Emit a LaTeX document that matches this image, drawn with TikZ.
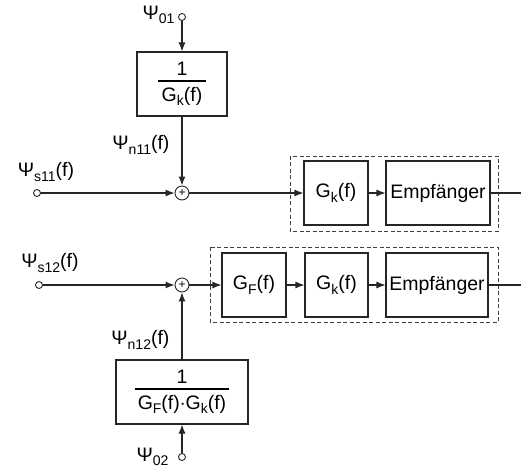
\documentclass[tikz,border=0pt]{standalone}
\usepackage{fontspec}
\setmainfont{Liberation Sans}
\usetikzlibrary{arrows.meta}
\newcommand{\myfr}[2]{\setlength\arrayrulewidth{1.8pt}\begin{tabular}{@{\,}c@{\,}}#1\\[-1pt]\hline\rule{0pt}{19pt}#2\end{tabular}}
\newcommand{\sbs}[1]{\raisebox{-0.45ex}{\fontsize{14}{14}\selectfont #1}}
\begin{document}
\begin{tikzpicture}[x=1pt,y=-1pt,
  every node/.style={font=\fontsize{19.5}{21}\selectfont},
  blk/.style={draw=black!85,line width=1.1pt,minimum height=64pt,inner sep=0pt},
  term/.style={circle,draw=black!85,line width=0.9pt,inner sep=0pt,minimum size=7pt,fill=white},
  summ/.style={circle,draw=black!85,line width=0.9pt,inner sep=0pt,minimum size=14pt},
  sig/.style={draw=black!85,line width=1.1pt},
  arr/.style={sig,-{Latex[length=9pt,width=7pt]}},
  dbox/.style={draw=black!75,dash pattern=on 4pt off 2.5pt,line width=0.8pt}]
\useasboundingbox (0,0) rectangle (521,470);
% dashed groups
\draw[dbox] (290,156) rectangle (498,231);
\draw[dbox] (210,247) rectangle (498,322);
% row 1
\node[term] (in01) at (182,17) {};
\node[anchor=east] (l01) at (178,15) {Ψ\sbs{01}};
\node[blk,minimum width=90pt] (box1) at (182,84) {\myfr{1}{G\sbs{k}(f)}};
\node[summ] (sum1) at (182,193) {\fontsize{12}{12}\selectfont +};
\node[anchor=east] (ln11) at (173,145) {Ψ\sbs{n11}(f)};
\node[term] (in11) at (37,193) {};
\node (ls11) at (46,172) {Ψ\sbs{s11}(f)};
\node[blk,minimum width=64pt] (gk1) at (336,193) {G\sbs{k}(f)};
\node[blk,minimum width=104pt] (emp1) at (438,193) {Empfänger};
\coordinate (out1) at (521,193);
\draw[arr] (in01) -- (box1.north);
\draw[arr] (box1.south) -- (sum1);
\draw[arr] (in11) -- (sum1);
\draw[arr] (sum1) -- (gk1);
\draw[arr] (gk1) -- (emp1);
\draw[sig] (emp1) -- (out1);
% row 2
\node[term] (in12) at (39,285) {};
\node (ls12) at (50,263) {Ψ\sbs{s12}(f)};
\node[summ] (sum2) at (182,285) {\fontsize{12}{12}\selectfont +};
\node[blk,minimum width=64pt] (gf2) at (254,285) {G\sbs{F}(f)};
\node[blk,minimum width=63pt] (gk2) at (336.5,285) {G\sbs{k}(f)};
\node[blk,minimum width=102pt] (emp2) at (437,285) {Empfänger};
\coordinate (out2) at (521,285);
\node[anchor=east] (ln12) at (173,340) {Ψ\sbs{n12}(f)};
\node[blk,minimum width=132pt] (box2) at (182,392) {\myfr{1}{G\sbs{F}(f)$\cdot$G\sbs{k}(f)}};
\node[term] (in02) at (182,457) {};
\node[anchor=east] (l02) at (172,457) {Ψ\sbs{02}};
\draw[arr] (in12) -- (sum2);
\draw[arr] (box2.north) -- (sum2);
\draw[arr] (in02) -- (box2.south);
\draw[arr] (sum2) -- (gf2);
\draw[arr] (gf2) -- (gk2);
\draw[arr] (gk2) -- (emp2);
\draw[sig] (emp2) -- (out2);
\end{tikzpicture}
\end{document}
